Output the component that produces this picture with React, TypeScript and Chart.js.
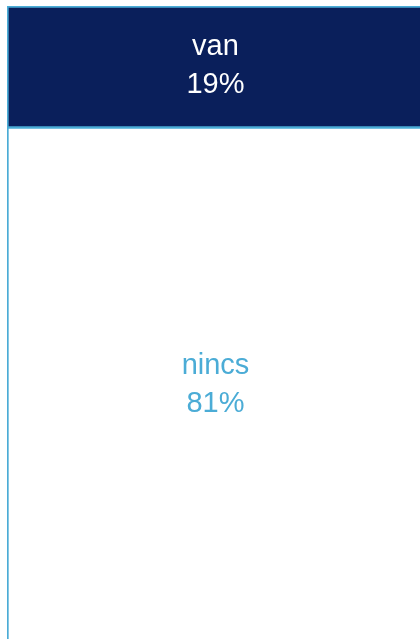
import React, { useEffect, useRef } from "react";
import { Chart, registerables } from "chart.js";

Chart.register(...registerables);

const categories: string[] = [""];
const seriesNames: string[] = ["nincs", "van"];
const nincsValues: number[] = [81];
const vanValues: number[] = [19];
const percentLabels: string[] = ["81%", "19%"];

const NAVY = "#0A1F5B";
const LIGHT = "#4BACD6";

const labelPlugin = {
  id: "segmentLabels",
  afterDatasetsDraw(chart: any) {
    const ctx = chart.ctx;
    chart.data.datasets.forEach((ds: any, i: number) => {
      const meta = chart.getDatasetMeta(i);
      meta.data.forEach((el: any) => {
        const { x, y, base } = el.getProps(["x", "y", "base"], true);
        const cy = (y + base) / 2 + ds.labelShift;
        ctx.save();
        ctx.font = '29px "Liberation Sans", Arial, sans-serif';
        ctx.textAlign = "center";
        ctx.textBaseline = "middle";
        ctx.fillStyle = ds.labelColor;
        ctx.fillText(seriesNames[i], x, cy - 19);
        ctx.fillText(percentLabels[i], x, cy + 19);
        ctx.restore();
      });
    });
  },
};

export default function App() {
  const ref = useRef<HTMLCanvasElement | null>(null);
  useEffect(() => {
    if (!ref.current) return;
    const chart = new Chart(ref.current, {
      type: "bar",
      data: {
        labels: categories,
        datasets: [
          {
            label: seriesNames[0],
            data: nincsValues,
            backgroundColor: "#FFFFFF",
            borderColor: LIGHT,
            borderWidth: { top: 1, left: 2, right: 2, bottom: 2 },
            borderSkipped: false,
            barPercentage: 1,
            categoryPercentage: 1,
            labelColor: LIGHT,
            labelShift: -3,
          } as any,
          {
            label: seriesNames[1],
            data: vanValues,
            backgroundColor: NAVY,
            borderColor: LIGHT,
            borderWidth: { top: 2, left: 2, right: 2, bottom: 2 },
            borderSkipped: false,
            barPercentage: 1,
            categoryPercentage: 1,
            labelColor: "#FFFFFF",
            labelShift: -1,
          } as any,
        ],
      },
      options: {
        animation: false,
        responsive: true,
        maintainAspectRatio: false,
        layout: { padding: 0 },
        plugins: { legend: { display: false }, tooltip: { enabled: false } },
        scales: {
          x: { stacked: true, display: false },
          y: { stacked: true, display: false, min: 0, max: 100 },
        },
      },
      plugins: [labelPlugin],
    });
    return () => chart.destroy();
  }, []);

  return (
    <div
      style={{
        position: "fixed",
        left: 0,
        top: 0,
        width: "100vw",
        height: "100vh",
        overflow: "hidden",
        background: "#FFFFFF",
      }}
    >
      <div style={{ position: "absolute", left: 7, top: 6, width: 417, height: 642 }}>
        <canvas ref={ref} />
      </div>
    </div>
  );
}
